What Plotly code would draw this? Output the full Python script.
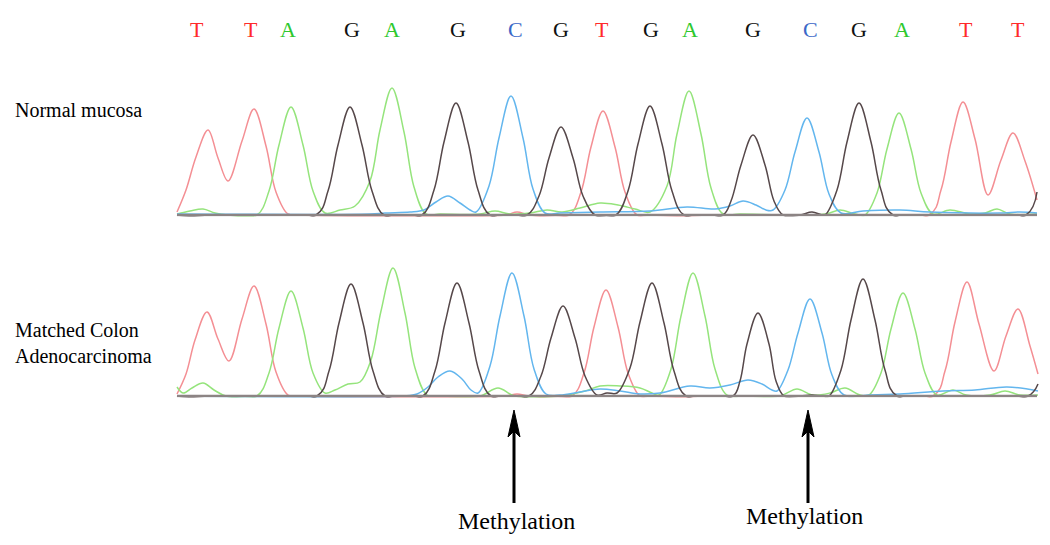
import plotly.graph_objects as go

# base calls printed over the traces
bases = ["T", "T", "A", "G", "A", "G", "C", "G", "T", "G", "A", "G", "C", "G", "A", "T", "T"]
base_pos = [197, 251, 288, 352, 392, 458, 515, 561, 602, 651, 690, 753, 810, 859, 902, 966, 1018]

# normal mucosa: (scan position, signal) key points for each dye
normal_T = [(177, 3), (186, 25), (196, 58), (208, 85), (218, 57), (228, 34), (242, 74), (254, 106), (266, 69),
            (276, 23), (288, 1), (300, 0), (505, 0), (517, 3), (530, 0), (569, 0), (581, 23), (591, 68),
            (603, 104), (615, 68), (625, 23), (637, 0), (650, 0), (929, 0), (941, 25), (951, 73), (963, 113),
            (975, 76), (988, 20), (1001, 55), (1013, 82), (1025, 54), (1037, 15)]
normal_A = [(177, 1), (190, 4), (203, 6), (215, 2), (228, 0), (257, 0), (269, 24), (279, 70), (291, 108),
            (303, 70), (313, 24), (325, 2), (340, 5), (355, 9), (370, 34), (380, 85), (392, 127), (404, 83),
            (414, 28), (426, 1), (440, 1), (480, 1), (495, 4), (510, 1), (530, 2), (547, 5), (562, 3),
            (580, 7), (600, 12), (618, 10), (635, 6), (650, 3), (667, 29), (677, 81), (689, 124), (701, 81),
            (711, 27), (723, 1), (740, 1), (825, 1), (840, 5), (855, 1), (865, 0), (877, 22), (887, 66),
            (899, 102), (911, 66), (921, 22), (933, 1), (950, 5), (970, 1), (985, 2), (997, 6), (1010, 1),
            (1037, 1)]
normal_C = [(177, 1), (370, 1), (385, 2), (410, 3), (424, 5), (436, 13), (448, 19), (460, 12), (470, 5),
            (476, 3), (489, 29), (499, 77), (511, 119), (523, 77), (533, 26), (545, 2), (560, 2), (600, 3),
            (650, 4), (687, 8), (715, 6), (730, 9), (743, 14), (756, 10), (766, 5), (773, 5), (785, 25),
            (795, 63), (807, 97), (819, 63), (829, 21), (841, 2), (863, 4), (900, 5), (930, 3), (1000, 2),
            (1020, 3), (1037, 2)]
normal_G = [(177, 0), (316, 0), (328, 24), (338, 70), (350, 108), (362, 70), (372, 24), (384, 0), (422, 0),
            (434, 25), (444, 73), (456, 112), (468, 73), (478, 25), (490, 0), (527, 0), (539, 19), (549, 57),
            (561, 88), (573, 57), (583, 19), (595, 0), (616, 0), (628, 24), (638, 71), (650, 109), (662, 71),
            (672, 24), (684, 0), (723, 0), (731, 14), (741, 50), (753, 80), (765, 50), (774, 14), (783, 0),
            (800, 0), (812, 3), (822, 0), (825, 0), (837, 25), (847, 73), (859, 112), (871, 73), (881, 25),
            (893, 0), (1026, 0), (1037, 23)]

# matched colon adenocarcinoma
tumor_T = [(177, 2), (186, 22), (195, 56), (207, 84), (218, 57), (229, 35), (242, 77), (254, 110), (266, 72),
           (276, 24), (288, 1), (300, 0), (505, 0), (517, 2), (530, 0), (572, 0), (584, 23), (594, 69),
           (606, 106), (618, 69), (628, 23), (640, 0), (650, 0), (933, 0), (945, 25), (955, 74), (967, 114),
           (979, 72), (994, 25), (1006, 60), (1018, 87), (1030, 50), (1038, 22)]
tumor_A = [(177, 9), (183, 3), (192, 8), (203, 13), (214, 6), (226, 0), (257, 0), (269, 23), (279, 68),
           (291, 105), (303, 68), (313, 23), (325, 3), (335, 6), (348, 12), (360, 14), (371, 36), (381, 85),
           (393, 128), (405, 83), (415, 28), (427, 1), (440, 0), (480, 0), (498, 8), (515, 0), (560, 0),
           (585, 5), (600, 10), (620, 10), (640, 8), (652, 3), (659, 1), (671, 27), (681, 80), (693, 123),
           (705, 80), (715, 27), (727, 1), (745, 0), (780, 0), (797, 7), (812, 1), (830, 3), (845, 8),
           (860, 1), (869, 1), (881, 23), (891, 67), (903, 103), (915, 67), (925, 23), (937, 1), (953, 6),
           (966, 1), (990, 1), (1005, 5), (1020, 1), (1038, 1)]
tumor_C = [(177, 0), (405, 0), (417, 2), (428, 9), (438, 19), (450, 25), (462, 17), (471, 6), (478, 3),
           (490, 30), (500, 80), (512, 123), (524, 80), (534, 27), (546, 2), (560, 1), (580, 4), (600, 7),
           (620, 5), (640, 2), (660, 3), (690, 10), (710, 8), (730, 11), (748, 16), (762, 12), (772, 6),
           (777, 5), (788, 26), (798, 63), (810, 97), (822, 63), (832, 21), (844, 1), (870, 1), (900, 2),
           (943, 5), (975, 6), (1007, 9), (1038, 5)]
tumor_G = [(177, 0), (317, 0), (329, 25), (339, 73), (351, 112), (363, 73), (373, 25), (385, 0), (423, 0),
           (435, 25), (445, 73), (457, 113), (469, 73), (479, 25), (491, 0), (529, 0), (541, 20), (551, 58),
           (563, 90), (575, 58), (585, 20), (597, 1), (607, 3), (617, 3), (630, 28), (640, 74), (652, 113),
           (664, 73), (674, 25), (686, 0), (733, 0), (740, 15), (747, 52), (758, 83), (769, 52), (776, 15),
           (784, 0), (800, 0), (812, 1), (822, 0), (829, 0), (841, 26), (851, 76), (863, 117), (875, 76),
           (885, 26), (897, 0), (1028, 0), (1038, 12)]

trace_span = [177, 1037]
methylation_pos = [514, 808]

dye_col = {"T": "#f48f94", "A": "#95e47c", "C": "#63b6ee", "G": "#56484a"}
letter_col = {"T": "#ff2a2a", "A": "#2ec82e", "C": "#3b68c8", "G": "#111111"}
serif = "Liberation Serif, Times New Roman, serif"

# the page body adds an 8px margin, so the figure is 8px smaller and x range starts at 8
W, H, OFF = 1042, 537, 8


def py(s):
    # screen pixel row -> paper fraction
    return (545 - s) / H


fig = go.Figure()

panels = [("y", {"T": normal_T, "A": normal_A, "C": normal_C, "G": normal_G}),
          ("y2", {"T": tumor_T, "A": tumor_A, "C": tumor_C, "G": tumor_G})]
for yax, dyes in panels:
    for b in ["T", "A", "C", "G"]:
        xs, ys = zip(*dyes[b])
        fig.add_trace(go.Scatter(x=xs, y=ys, yaxis=yax, mode="lines",
                                 line=dict(color=dye_col[b], width=1.5, shape="spline", smoothing=1),
                                 hoverinfo="skip", showlegend=False))
    fig.add_trace(go.Scatter(x=trace_span, y=[0, 0], yaxis=yax, mode="lines",
                             line=dict(color="#8c8484", width=2.5), hoverinfo="skip", showlegend=False))

for b, xp in zip(bases, base_pos):
    fig.add_annotation(x=xp, y=py(30), xref="x", yref="paper", text=b, showarrow=False,
                       xanchor="center", yanchor="middle",
                       font=dict(family=serif, size=22, color=letter_col[b]))

fig.add_annotation(x=13, y=py(110), xref="x", yref="paper", text="Normal mucosa", showarrow=False,
                   xanchor="left", yanchor="middle", font=dict(family=serif, size=20, color="black"))
fig.add_annotation(x=13, y=py(343), xref="x", yref="paper", text="Matched Colon<br>Adenocarcinoma",
                   showarrow=False, xanchor="left", yanchor="middle", align="left",
                   font=dict(family=serif, size=20, color="black"))

text_rows = [521, 516]
text_dx = [2, -4]
for xp, row, dx in zip(methylation_pos, text_rows, text_dx):
    # shaft
    fig.add_shape(type="line", xref="x", yref="paper", x0=xp, x1=xp, y0=py(503), y1=py(430),
                  line=dict(color="black", width=3))
    # head, drawn in pixels around the tip
    fig.add_shape(type="path", xref="x", yref="paper", xsizemode="pixel", ysizemode="pixel",
                  xanchor=xp, yanchor=py(410), path="M0,0 L-6,-27 L0,-21 L6,-27 Z",
                  fillcolor="black", line=dict(color="black", width=1))
    fig.add_annotation(x=xp + dx, y=py(row), xref="x", yref="paper", text="Methylation", showarrow=False,
                       xanchor="center", yanchor="middle", font=dict(family=serif, size=24, color="black"))

fig.update_layout(
    width=W, height=H, margin=dict(l=0, r=0, t=0, b=0),
    paper_bgcolor="white", plot_bgcolor="white",
    xaxis=dict(range=[OFF, OFF + W], visible=False),
    yaxis=dict(domain=[py(216.5), py(76.5)], range=[-1.5, 138.5], visible=False),
    yaxis2=dict(domain=[py(397.5), py(257.5)], range=[-1.5, 138.5], visible=False, anchor="x"),
)

fig.write_html("out.html")
